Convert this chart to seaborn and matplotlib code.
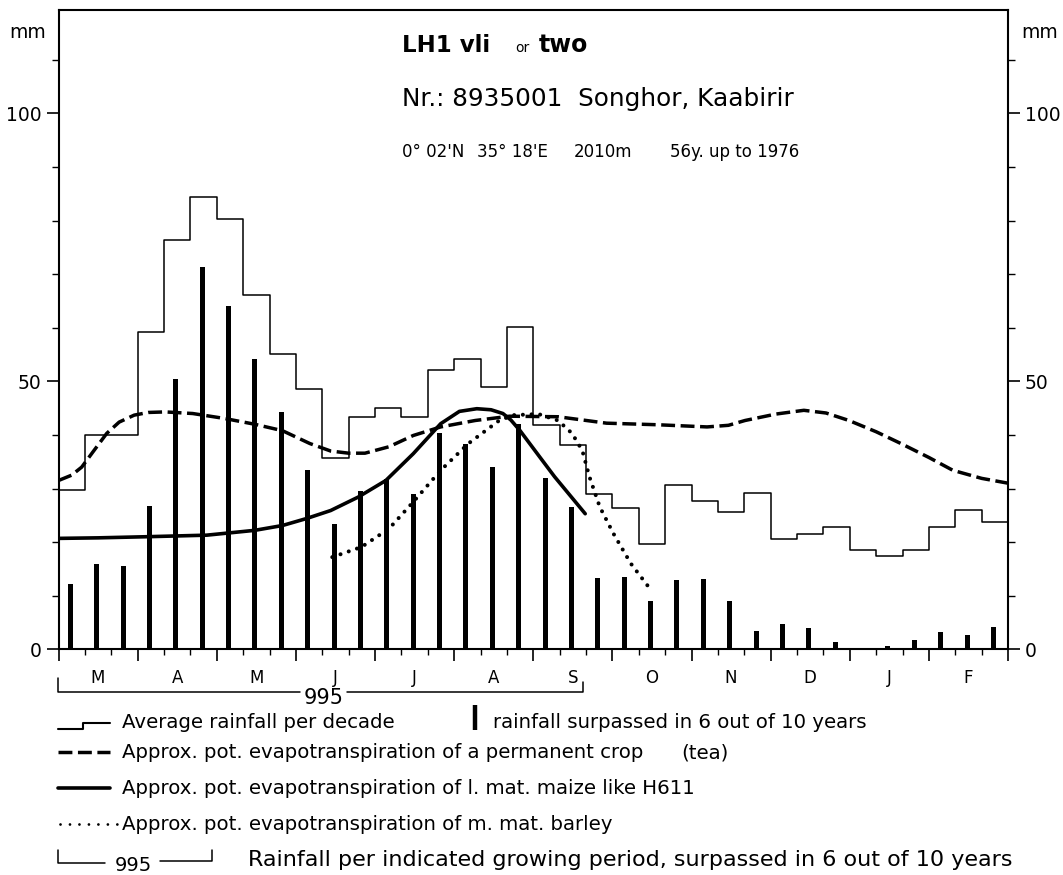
import numpy as np
import pandas as pd
import matplotlib
matplotlib.use("Agg")
import matplotlib.pyplot as plt
import seaborn as sns
from matplotlib.transforms import Affine2D
from matplotlib.lines import Line2D
from matplotlib.ticker import NullFormatter

# ---------------- data ----------------
months = ["M", "A", "M", "J", "J", "A", "S", "O", "N", "D", "J", "F"]

# average rainfall per decade (mm), 36 decades from 1 March
avg_rain = [29.7, 40.0, 40.0, 59.2, 76.4, 84.4, 80.3, 66.1, 55.1, 48.5,
            35.7, 43.3, 45.1, 43.4, 52.2, 54.1, 48.9, 60.2, 41.9, 38.1,
            28.9, 26.3, 19.7, 30.6, 27.7, 25.6, 29.2, 20.5, 21.6, 22.8,
            18.6, 17.4, 18.6, 22.8, 26.0, 23.8]

# rainfall surpassed in 6 out of 10 years (mm)
rain_6of10 = [12.1, 15.9, 15.6, 26.7, 50.4, 71.3, 64.0, 54.1, 44.3, 33.4,
              23.3, 29.6, 31.7, 28.9, 40.3, 38.4, 34.0, 42.1, 31.9, 26.6,
              13.3, 13.5, 9.0, 12.9, 13.1, 9.0, 3.4, 4.8, 3.9, 1.4,
              0.0, 0.6, 1.7, 3.2, 2.7, 4.2]

# potential evapotranspiration, permanent crop (tea)  (decade position, mm)
tea_x = [0.0, 0.5, 0.88, 1.3, 1.83, 2.3, 2.87, 3.4, 4.05, 5.09, 6.27, 7.44,
         8.49, 9.53, 10.32, 11.0, 11.62, 12.53, 13.45, 14.49, 15.8, 17.1,
         18.94, 20.78, 22.75, 24.59, 25.4, 26.03, 27.2, 28.26, 29.1, 29.97,
         31.0, 31.94, 33.0, 33.91, 35.0, 36.0]
tea_y = [31.5, 32.5, 34.0, 36.8, 40.3, 42.4, 43.7, 44.2, 44.3, 44.0, 43.1,
         42.0, 40.8, 38.4, 37.0, 36.6, 36.6, 37.8, 39.9, 41.5, 42.7, 43.5,
         43.4, 42.2, 41.9, 41.5, 41.8, 42.7, 43.9, 44.6, 44.1, 42.7,
         40.6, 38.4, 35.8, 33.4, 31.9, 31.0]

# long maturing maize like H611
maize_x = [0.0, 1.5, 3.26, 5.62, 7.44, 8.49, 9.4, 10.32, 11.36, 12.41, 13.45,
           14.49, 15.2, 15.86, 16.4, 16.85, 17.15, 17.5, 18.26, 18.81, 19.97]
maize_y = [20.7, 20.8, 21.0, 21.3, 22.2, 23.1, 24.4, 25.9, 28.4, 31.5, 36.5,
           42.1, 44.4, 44.9, 44.7, 44.0, 42.8, 40.8, 35.8, 32.2, 25.3]

# medium maturing barley
barley_x = [10.38, 11.49, 12.53, 13.45, 14.49, 15.54, 16.71, 17.24, 18.2,
            18.94, 19.47, 19.86, 20.13, 20.52, 21.04, 21.70, 22.38]
barley_y = [17.2, 19.1, 22.5, 27.5, 33.4, 38.4, 42.7, 43.7, 43.9,
            42.7, 40.3, 37.1, 32.2, 26.6, 21.6, 16.0, 11.6]

period_total = "995"

# ---------------- figure ----------------
sns.set_style("ticks")
plt.rcParams["font.family"] = ["DejaVu Sans"]
for k in ["text.color", "axes.labelcolor", "xtick.color", "ytick.color",
          "axes.edgecolor"]:
    plt.rcParams[k] = "black"

W, H = 1063, 875
fig = plt.figure(figsize=(W / 100, H / 100), dpi=100)
x0, x1, ytop, ybot = 58.5, 1008.0, 9.5, 649.3
ax = fig.add_axes([x0 / W, 1 - ybot / H, (x1 - x0) / W, (ybot - ytop) / H])
T = Affine2D().scale(1 / W, -1 / H).translate(0, 1) + fig.transFigure

decades = np.arange(36)
bars = pd.DataFrame({"x": decades + 0.45, "rain": rain_6of10})
sns.barplot(data=bars, x="x", y="rain", native_scale=True, width=0.19,
            color="black", saturation=1, linewidth=0, ax=ax)

edges = np.arange(37)
sns.lineplot(x=edges, y=avg_rain + [avg_rain[-1]], drawstyle="steps-post",
             estimator=None, color="black", lw=1.1, ax=ax)

sns.lineplot(x=tea_x, y=tea_y, sort=False, estimator=None, color="black",
             lw=2.5, linestyle=(0, (4, 1.6)), ax=ax)
sns.lineplot(x=maize_x, y=maize_y, sort=False, estimator=None, color="black",
             lw=2.6, ax=ax)
sns.lineplot(x=barley_x, y=barley_y, sort=False, estimator=None, color="black",
             lw=2.9, linestyle=(0, (0.01, 2.15)), dash_capstyle="round", ax=ax)

ax.set_xlim(0, 36)
ax.set_ylim(0, 119.4)
ax.set_xlabel("")
ax.set_ylabel("")

ax.set_xticks(np.arange(0, 37, 3))
ax.set_xticks(np.arange(0, 37, 1), minor=True)
ax.xaxis.set_major_formatter(NullFormatter())
ax.xaxis.set_minor_formatter(NullFormatter())
ax.set_yticks([0, 50, 100])
ax.set_yticks(np.arange(0, 120, 10), minor=True)
ax.yaxis.set_minor_formatter(NullFormatter())

ax.tick_params(axis="x", which="major", direction="out", length=8.6, width=1.2,
               bottom=True, top=False, color="black")
ax.tick_params(axis="x", which="minor", direction="out", length=4.3, width=1.0,
               bottom=True, top=False, color="black")
ax.tick_params(axis="y", which="major", direction="out", length=8.6, width=1.2,
               left=True, right=True, labelleft=True, labelright=True,
               labelsize=13.5, pad=3.5, color="black", labelcolor="black")
ax.tick_params(axis="y", which="minor", direction="out", length=5, width=1.0,
               left=True, right=True, color="black")
for s in ax.spines.values():
    s.set_visible(True)
    s.set_linewidth(1.5)
    s.set_color("black")

for i, m in enumerate(months):
    ax.text(i * 3 + 1.5, -0.0522, m, transform=ax.get_xaxis_transform(),
            ha="center", va="baseline", fontsize=12, color="black")

# unit labels
fig.text(28, 38, "mm", transform=T, ha="center", va="baseline", fontsize=13.5)
fig.text(1040, 38, "mm", transform=T, ha="center", va="baseline", fontsize=13.5)

# titles
fig.text(401.7, 51.7, "LH1 vli", transform=T, ha="left", va="baseline",
         fontsize=16.5, fontweight="bold")
fig.text(515, 51.7, "or", transform=T, ha="left", va="baseline", fontsize=10)
fig.text(539, 51.7, "two", transform=T, ha="left", va="baseline",
         fontsize=17, fontweight="bold")
fig.text(401.7, 106, "Nr.: 8935001  Songhor, Kaabirir", transform=T,
         ha="left", va="baseline", fontsize=17.8)
for xp, s in [(401.7, "0° 02'N"), (476.7, "35° 18'E"), (573.3, "2010m"),
              (670, "56y. up to 1976")]:
    fig.text(xp, 157, s, transform=T, ha="left", va="baseline", fontsize=12)


def pline(xs, ys, **kw):
    kw.setdefault("color", "black")
    fig.add_artist(Line2D(xs, ys, transform=T, **kw))


# growing-period bracket below the axis
pline([58, 58, 300], [678, 691.5, 691.5], lw=1.1)
pline([347, 583.3, 583.3], [691.5, 691.5, 681.7], lw=1.1)
fig.text(324, 704, period_total, transform=T, ha="center", va="baseline",
         fontsize=15)

# legend
fs = 14.2
pline([58, 83, 83, 110], [729, 729, 723, 723], lw=1.5)
fig.text(121.7, 728.5, "Average rainfall per decade", transform=T,
         ha="left", va="baseline", fontsize=fs)
pline([474.5, 474.5], [705, 730], lw=3.2, solid_capstyle="butt")
fig.text(493, 728.5, "rainfall surpassed in 6 out of 10 years", transform=T,
         ha="left", va="baseline", fontsize=fs)

pline([58, 110], [752, 752], lw=2.5, linestyle=(0, (4, 1.6)))
fig.text(121.7, 758.5, "Approx. pot. evapotranspiration of a permanent crop",
         transform=T, ha="left", va="baseline", fontsize=fs)
fig.text(681, 758.5, "(tea)", transform=T, ha="left", va="baseline", fontsize=fs)

pline([58, 110], [788, 788], lw=2.6)
fig.text(121.7, 794.5, "Approx. pot. evapotranspiration of l. mat. maize like H611",
         transform=T, ha="left", va="baseline", fontsize=fs)

pline([60, 118], [824, 824], lw=2.0, linestyle=(0, (0.01, 3.4)),
      dash_capstyle="round")
fig.text(121.7, 830.5, "Approx. pot. evapotranspiration of m. mat. barley",
         transform=T, ha="left", va="baseline", fontsize=fs)

pline([58, 58, 105], [850, 862.5, 862.5], lw=1.1)
fig.text(133.5, 871, period_total, transform=T, ha="center", va="baseline",
         fontsize=14)
pline([160, 212, 212], [860.5, 860.5, 850], lw=1.1)
fig.text(248, 865.5,
         "Rainfall per indicated growing period, surpassed in 6 out of 10 years",
         transform=T, ha="left", va="baseline", fontsize=16)

fig.savefig("out.png", dpi=100)
